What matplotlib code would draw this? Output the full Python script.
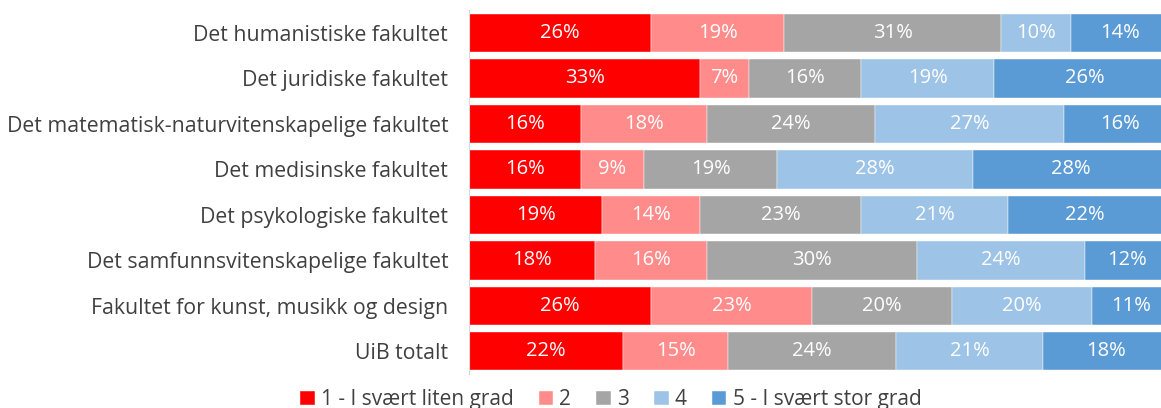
import matplotlib.pyplot as plt
import numpy as np

plt.rcParams['font.family'] = ['Open Sans', 'DejaVu Sans']

fakulteter = ['Det humanistiske fakultet', 'Det juridiske fakultet',
              'Det matematisk-naturvitenskapelige fakultet', 'Det medisinske fakultet',
              'Det psykologiske fakultet', 'Det samfunnsvitenskapelige fakultet',
              'Fakultet for kunst, musikk og design', 'UiB totalt']

serier = ['1 - I svært liten grad', '2', '3', '4', '5 - I svært stor grad']
farger = ['#FF0000', '#FF8B8B', '#A5A5A5', '#9DC3E6', '#5B9BD5']

grad1 = [26, 33, 16, 16, 19, 18, 26, 22]
grad2 = [19, 7, 18, 9, 14, 16, 23, 15]
grad3 = [31, 16, 24, 19, 23, 30, 20, 24]
grad4 = [10, 19, 27, 28, 21, 24, 20, 21]
grad5 = [14, 26, 16, 28, 22, 12, 11, 18]

data = [grad1, grad2, grad3, grad4, grad5]

fig = plt.figure(figsize=(11.61, 4.08), dpi=100)
ax = fig.add_axes([0.404, 0.083, 0.603, 0.892])

y = np.arange(len(fakulteter))
venstre = np.zeros(len(fakulteter))
for navn, verdier, farge in zip(serier, data, farger):
    verdier = np.array(verdier, dtype=float)
    ax.barh(y, verdier, left=venstre, height=0.84, color=farge, label=navn,
            edgecolor='white', linewidth=0.3)
    for yi, v, l in zip(y, verdier, venstre):
        ax.text(l + v / 2, yi, f'{int(v)}%', ha='center', va='center',
                color='white', fontsize=14.5)
    venstre += verdier

ax.set_xlim(0, 100)
ax.set_ylim(len(fakulteter) - 0.5, -0.5)
ax.set_yticks(y)
ax.set_yticklabels(fakulteter, fontsize=15.3, color='#404040')
ax.tick_params(axis='y', length=0, pad=15)
ax.set_xticks([])
for s in ['top', 'right', 'bottom']:
    ax.spines[s].set_visible(False)
ax.spines['left'].set_color('#D9D9D9')

fig.legend(loc='center', bbox_to_anchor=(0.526, 0.02), ncol=5, frameon=False,
           fontsize=15, handlelength=0.7, handleheight=0.7, handletextpad=0.3,
           columnspacing=1.2, labelcolor='#404040')

fig.savefig('out.png', dpi=100)
